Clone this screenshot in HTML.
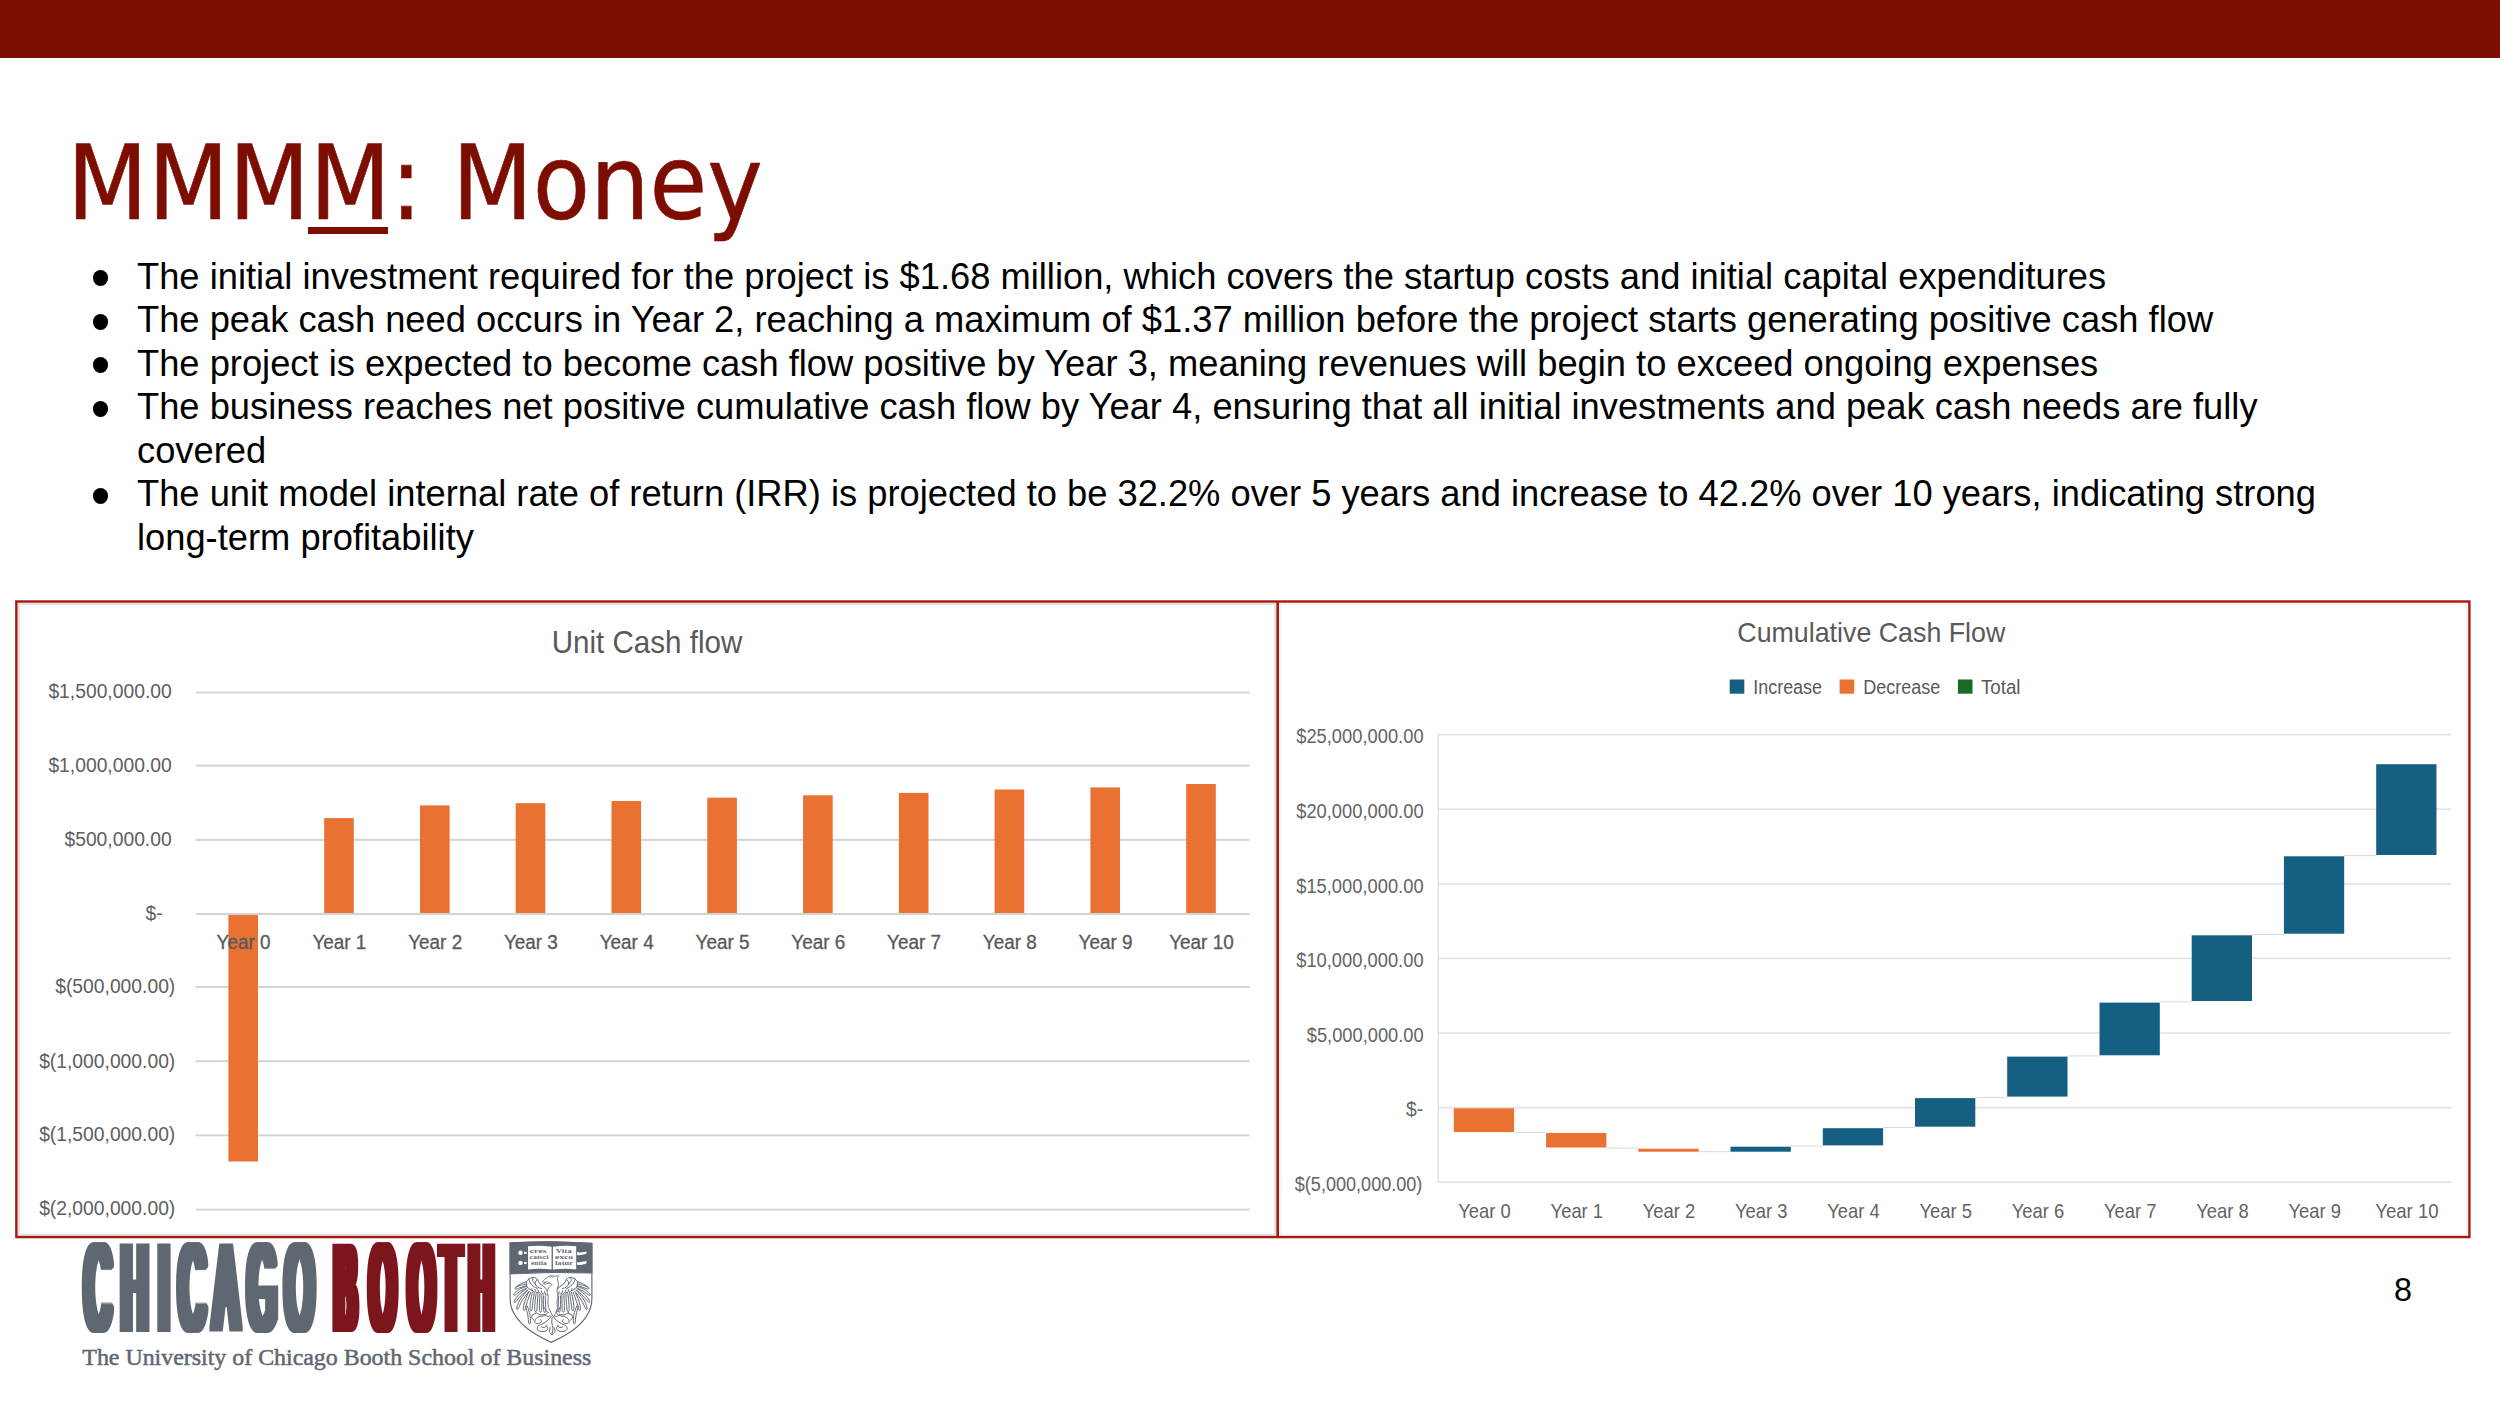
<!DOCTYPE html>
<html lang="en">
<head>
<meta charset="utf-8">
<title>MMMM: Money</title>
<style>
html,body{margin:0;padding:0;}
body{width:2500px;height:1406px;position:relative;overflow:hidden;background:#fff;
  font-family:"Liberation Sans",sans-serif;}
#topbar{position:absolute;left:0;top:0;width:2500px;height:57.6px;background:#7d0d00;}
#title{position:absolute;left:67px;top:121.7px;-webkit-text-stroke:0.6px #7d0d00;margin:0;font-weight:normal;
  font-family:"DejaVu Sans Condensed","DejaVu Sans",sans-serif;font-stretch:condensed;
  font-size:104.2px;line-height:122px;color:#7d0d00;white-space:nowrap;letter-spacing:0;}
#title u{text-decoration:none;position:relative;}
#title u::after{content:"";position:absolute;left:-1.2px;right:2.2px;top:105.5px;height:6.4px;background:#7d0d00;}
#bullets{position:absolute;left:137px;top:254.9px;width:2300px;margin:0;padding:0;list-style:none;
  font-size:36.3px;line-height:43.52px;color:#000;white-space:nowrap;}
#bullets li{position:relative;margin:0;padding:0;}
#bullets li::before{content:"";position:absolute;left:-44.4px;top:15.5px;width:15.6px;height:15.6px;border-radius:50%;background:#000;}
#pagenum{position:absolute;left:2385px;top:1272px;width:36px;text-align:center;font-size:32.3px;line-height:36px;color:#000;}
#charts{position:absolute;left:0;top:0;}
#logo{position:absolute;left:0;top:0;}
</style>
</head>
<body>
<div id="topbar"></div>
<h1 id="title">MMM<u>M</u>: Money</h1>
<ul id="bullets">
<li>The initial investment required for the project is $1.68 million, which covers the startup costs and initial capital expenditures</li>
<li>The peak cash need occurs in Year 2, reaching a maximum of $1.37 million before the project starts generating positive cash flow</li>
<li>The project is expected to become cash flow positive by Year 3, meaning revenues will begin to exceed ongoing expenses</li>
<li>The business reaches net positive cumulative cash flow by Year 4, ensuring that all initial investments and peak cash needs are fully<br>covered</li>
<li>The unit model internal rate of return (IRR) is projected to be 32.2% over 5 years and increase to 42.2% over 10 years, indicating strong<br>long-term profitability</li>
</ul>
<!--CHARTS_START-->
<svg id="charts" width="2500" height="1406" viewBox="0 0 2500 1406" font-family="'Liberation Sans',sans-serif" fill="#595959">
<rect x="18.7" y="603.9" width="1256.5" height="630.8" fill="#fff" stroke="#dde3e4" stroke-width="2.2"/>
<rect x="1280.2" y="603.9" width="1186.6" height="630.8" fill="#fff" stroke="#f0f4f4" stroke-width="2"/>
<rect x="195.5" y="691.56" width="1054" height="2" fill="#d4d4d4"/>
<rect x="195.5" y="764.60" width="1054" height="2" fill="#d4d4d4"/>
<rect x="195.5" y="838.84" width="1054" height="2" fill="#d4d4d4"/>
<rect x="195.5" y="986.04" width="1054" height="2" fill="#d4d4d4"/>
<rect x="195.5" y="1060.20" width="1054" height="2" fill="#d4d4d4"/>
<rect x="195.5" y="1134.36" width="1054" height="2" fill="#d4d4d4"/>
<rect x="195.5" y="1208.60" width="1054" height="2" fill="#d4d4d4"/>
<g fill="#E97132">
<rect x="228.4" y="914.0" width="29.6" height="247.5"/>
<rect x="324.2" y="818.1" width="29.6" height="95.9"/>
<rect x="420.0" y="805.4" width="29.6" height="108.6"/>
<rect x="515.7" y="803.2" width="29.6" height="110.8"/>
<rect x="611.5" y="801.0" width="29.6" height="113.0"/>
<rect x="707.3" y="797.7" width="29.6" height="116.3"/>
<rect x="803.1" y="795.3" width="29.6" height="118.7"/>
<rect x="898.9" y="792.9" width="29.6" height="121.1"/>
<rect x="994.6" y="789.5" width="29.6" height="124.5"/>
<rect x="1090.4" y="787.4" width="29.6" height="126.6"/>
<rect x="1186.2" y="784.0" width="29.6" height="130.0"/>
</g>
<rect x="195.5" y="913.00" width="1054" height="2" fill="#d4d4d4"/>
<text x="216.6" y="949.0" font-size="19.9" stroke="#595959" stroke-width="0.3" textLength="54.0" lengthAdjust="spacingAndGlyphs">Year 0</text>
<text x="312.4" y="949.0" font-size="19.9" stroke="#595959" stroke-width="0.3" textLength="54.0" lengthAdjust="spacingAndGlyphs">Year 1</text>
<text x="408.2" y="949.0" font-size="19.9" stroke="#595959" stroke-width="0.3" textLength="54.0" lengthAdjust="spacingAndGlyphs">Year 2</text>
<text x="503.9" y="949.0" font-size="19.9" stroke="#595959" stroke-width="0.3" textLength="54.0" lengthAdjust="spacingAndGlyphs">Year 3</text>
<text x="599.7" y="949.0" font-size="19.9" stroke="#595959" stroke-width="0.3" textLength="54.0" lengthAdjust="spacingAndGlyphs">Year 4</text>
<text x="695.5" y="949.0" font-size="19.9" stroke="#595959" stroke-width="0.3" textLength="54.0" lengthAdjust="spacingAndGlyphs">Year 5</text>
<text x="791.3" y="949.0" font-size="19.9" stroke="#595959" stroke-width="0.3" textLength="54.0" lengthAdjust="spacingAndGlyphs">Year 6</text>
<text x="887.1" y="949.0" font-size="19.9" stroke="#595959" stroke-width="0.3" textLength="54.0" lengthAdjust="spacingAndGlyphs">Year 7</text>
<text x="982.8" y="949.0" font-size="19.9" stroke="#595959" stroke-width="0.3" textLength="54.0" lengthAdjust="spacingAndGlyphs">Year 8</text>
<text x="1078.6" y="949.0" font-size="19.9" stroke="#595959" stroke-width="0.3" textLength="54.0" lengthAdjust="spacingAndGlyphs">Year 9</text>
<text x="1169.2" y="949.0" font-size="19.9" stroke="#595959" stroke-width="0.3" textLength="64.5" lengthAdjust="spacingAndGlyphs">Year 10</text>
<text x="171.7" y="697.5" font-size="19.3" fill="#5e5e5e" text-anchor="end">$1,500,000.00</text>
<text x="171.7" y="772.0" font-size="19.3" fill="#5e5e5e" text-anchor="end">$1,000,000.00</text>
<text x="171.7" y="846.0" font-size="19.3" fill="#5e5e5e" text-anchor="end">$500,000.00</text>
<text x="162.7" y="919.7" font-size="19.3" fill="#5e5e5e" text-anchor="end">$-</text>
<text x="175.3" y="993.4" font-size="19.3" fill="#5e5e5e" text-anchor="end">$(500,000.00)</text>
<text x="175.3" y="1067.5" font-size="19.3" fill="#5e5e5e" text-anchor="end">$(1,000,000.00)</text>
<text x="175.3" y="1140.8" font-size="19.3" fill="#5e5e5e" text-anchor="end">$(1,500,000.00)</text>
<text x="175.3" y="1215.1" font-size="19.3" fill="#5e5e5e" text-anchor="end">$(2,000,000.00)</text>
<text x="551.7" y="653" font-size="31.2" textLength="190.7" lengthAdjust="spacingAndGlyphs">Unit Cash flow</text>
<rect x="1438" y="733.85" width="1013.4" height="1.5" fill="#e1e1e1"/>
<rect x="1438" y="808.45" width="1013.4" height="1.5" fill="#e1e1e1"/>
<rect x="1438" y="883.05" width="1013.4" height="1.5" fill="#e1e1e1"/>
<rect x="1438" y="957.65" width="1013.4" height="1.5" fill="#e1e1e1"/>
<rect x="1438" y="1032.25" width="1013.4" height="1.5" fill="#e1e1e1"/>
<rect x="1438" y="1106.85" width="1013.4" height="1.5" fill="#e1e1e1"/>
<rect x="1438" y="1181.45" width="1013.4" height="1.5" fill="#e1e1e1"/>
<rect x="1437.5" y="733.9" width="1.5" height="449.1" fill="#e1e1e1"/>
<rect x="1514.2" y="1132.05" width="31.9" height="1" fill="#d9d9d9"/>
<rect x="1606.4" y="1147.60" width="31.9" height="1" fill="#d9d9d9"/>
<rect x="1698.6" y="1151.20" width="31.9" height="1" fill="#d9d9d9"/>
<rect x="1790.8" y="1145.55" width="31.9" height="1" fill="#d9d9d9"/>
<rect x="1883.1" y="1126.95" width="31.9" height="1" fill="#d9d9d9"/>
<rect x="1975.3" y="1096.85" width="31.9" height="1" fill="#d9d9d9"/>
<rect x="2067.5" y="1055.45" width="31.9" height="1" fill="#d9d9d9"/>
<rect x="2159.8" y="1001.30" width="31.9" height="1" fill="#d9d9d9"/>
<rect x="2252.0" y="934.00" width="31.9" height="1" fill="#d9d9d9"/>
<rect x="2344.2" y="855.15" width="31.9" height="1" fill="#d9d9d9"/>
<rect x="1453.8" y="1108.3" width="60.3" height="23.8" fill="#E97132"/>
<rect x="1546.1" y="1133.0" width="60.3" height="14.5" fill="#E97132"/>
<rect x="1638.3" y="1148.7" width="60.3" height="3.0" fill="#E97132"/>
<rect x="1730.5" y="1146.7" width="60.3" height="5.0" fill="#156082"/>
<rect x="1822.8" y="1128.2" width="60.3" height="17.2" fill="#156082"/>
<rect x="1915.0" y="1098.1" width="60.3" height="28.6" fill="#156082"/>
<rect x="2007.2" y="1056.6" width="60.3" height="40.0" fill="#156082"/>
<rect x="2099.5" y="1002.6" width="60.3" height="52.7" fill="#156082"/>
<rect x="2191.7" y="935.3" width="60.3" height="65.7" fill="#156082"/>
<rect x="2283.9" y="856.3" width="60.3" height="77.4" fill="#156082"/>
<rect x="2376.2" y="764.2" width="60.3" height="90.8" fill="#156082"/>
<text x="1458.3" y="1218.1" font-size="20.6" fill="#626262" textLength="52.5" lengthAdjust="spacingAndGlyphs">Year 0</text>
<text x="1550.6" y="1218.1" font-size="20.6" fill="#626262" textLength="52.5" lengthAdjust="spacingAndGlyphs">Year 1</text>
<text x="1642.8" y="1218.1" font-size="20.6" fill="#626262" textLength="52.5" lengthAdjust="spacingAndGlyphs">Year 2</text>
<text x="1735.0" y="1218.1" font-size="20.6" fill="#626262" textLength="52.5" lengthAdjust="spacingAndGlyphs">Year 3</text>
<text x="1827.3" y="1218.1" font-size="20.6" fill="#626262" textLength="52.5" lengthAdjust="spacingAndGlyphs">Year 4</text>
<text x="1919.5" y="1218.1" font-size="20.6" fill="#626262" textLength="52.5" lengthAdjust="spacingAndGlyphs">Year 5</text>
<text x="2011.7" y="1218.1" font-size="20.6" fill="#626262" textLength="52.5" lengthAdjust="spacingAndGlyphs">Year 6</text>
<text x="2104.0" y="1218.1" font-size="20.6" fill="#626262" textLength="52.5" lengthAdjust="spacingAndGlyphs">Year 7</text>
<text x="2196.2" y="1218.1" font-size="20.6" fill="#626262" textLength="52.5" lengthAdjust="spacingAndGlyphs">Year 8</text>
<text x="2288.4" y="1218.1" font-size="20.6" fill="#626262" textLength="52.5" lengthAdjust="spacingAndGlyphs">Year 9</text>
<text x="2375.2" y="1218.1" font-size="20.6" fill="#626262" textLength="63.5" lengthAdjust="spacingAndGlyphs">Year 10</text>
<text x="1296.2" y="743.3" font-size="20.3" fill="#646464" textLength="127.4" lengthAdjust="spacingAndGlyphs">$25,000,000.00</text>
<text x="1296.2" y="817.9" font-size="20.3" fill="#646464" textLength="127.4" lengthAdjust="spacingAndGlyphs">$20,000,000.00</text>
<text x="1296.2" y="892.5" font-size="20.3" fill="#646464" textLength="127.4" lengthAdjust="spacingAndGlyphs">$15,000,000.00</text>
<text x="1296.2" y="967.1" font-size="20.3" fill="#646464" textLength="127.4" lengthAdjust="spacingAndGlyphs">$10,000,000.00</text>
<text x="1306.8" y="1041.7" font-size="20.3" fill="#646464" textLength="116.8" lengthAdjust="spacingAndGlyphs">$5,000,000.00</text>
<text x="1406.0" y="1116.3" font-size="20.3" fill="#646464" textLength="17.2" lengthAdjust="spacingAndGlyphs">$-</text>
<text x="1294.8" y="1190.9" font-size="20.3" fill="#646464" textLength="127.6" lengthAdjust="spacingAndGlyphs">$(5,000,000.00)</text>
<text x="1737.3" y="642.4" font-size="28.5" textLength="268" lengthAdjust="spacingAndGlyphs">Cumulative Cash Flow</text>
<rect x="1729.7" y="679.5" width="14.6" height="14.2" fill="#156082"/>
<text x="1753.2" y="694.2" font-size="19.9" textLength="68.9" lengthAdjust="spacingAndGlyphs">Increase</text>
<rect x="1839.6" y="679.5" width="14.6" height="14.2" fill="#E97132"/>
<text x="1863.3" y="694.2" font-size="19.9" textLength="77" lengthAdjust="spacingAndGlyphs">Decrease</text>
<rect x="1957.9" y="679.5" width="14.6" height="14.2" fill="#196B24"/>
<text x="1981" y="694.2" font-size="19.9" textLength="39.5" lengthAdjust="spacingAndGlyphs">Total</text>
<rect x="16.35" y="601.5" width="2453.05" height="635.55" fill="none" stroke="#a51a0c" stroke-width="2.4"/>
<rect x="1276.4" y="601.5" width="2.6" height="635.55" fill="#a51a0c"/>
</svg>
<!--CHARTS_END-->
<!--LOGO_START-->
<svg id="logo" width="2500" height="1406" viewBox="0 0 2500 1406">
<defs>
<filter id="fat0" x="-5%" y="-10%" width="110%" height="120%"><feMorphology operator="dilate" radius="4.7 2.0"/></filter>
<filter id="fat1" x="-5%" y="-10%" width="110%" height="120%"><feMorphology operator="dilate" radius="5.4 2.0"/></filter>
</defs>
<g font-family="'Liberation Sans',sans-serif" font-size="122.4">
<g filter="url(#fat0)"><text transform="translate(0,1330.20) scale(0.29,1)" x="293.3 420.2 548.4 617.8 738.8 855.9 985.2" y="0" fill="#5f6872">CHICAGO</text></g>
<g filter="url(#fat1)"><text transform="translate(0,1330.20) scale(0.262,1)" x="1277.7 1413.2 1560.7 1684.5 1792.9" y="0" fill="#7c151c">BOOTH</text></g>
</g>
<text x="82.3" y="1364.6" font-family="'Liberation Serif',serif" font-size="22.4" fill="#5f6872" stroke="#5f6872" stroke-width="0.5" textLength="509" lengthAdjust="spacingAndGlyphs">The University of Chicago Booth School of Business</text>
<path d="M510.1,1242.9 Q551.3,1240.3 591.9,1243.4 L591.9,1298.7 C591.9,1314.4 580.9,1325.6 566.4,1334.6 C560.8,1337.9 555.2,1340.7 551.3,1342.4 C547.3,1340.7 541.7,1337.9 536.1,1334.6 C521.6,1325.6 510.1,1314.4 510.1,1298.7 Z" fill="#fff" stroke="#5f6872" stroke-width="1.15"/>
<path d="M510.1,1242.9 Q551.3,1240.3 591.9,1243.4 L591.9,1273.0 Q551.3,1271.6 510.1,1273.9 Z" fill="#5f6872" stroke="#5f6872" stroke-width="1.0"/>
<path d="M528.0,1246.3 Q539.5,1245.0 551.6,1246.8 L551.6,1269.6 Q539.5,1267.8 528.0,1269.4 Z" fill="#fff"/>
<path d="M552.9,1246.8 Q564.7,1245.0 576.2,1246.3 L576.2,1269.4 Q564.7,1267.8 552.9,1269.6 Z" fill="#fff"/>
<circle cx="520.5" cy="1252.8" r="2.2" fill="#fff"/>
<rect x="524.1" y="1251.8" width="2.6" height="2.1" fill="#fff"/>
<circle cx="520.5" cy="1262.9" r="2.2" fill="#fff"/>
<rect x="524.1" y="1261.9" width="2.6" height="2.1" fill="#fff"/>
<path d="M577.1,1252.1 C580.9,1253.5 583.2,1250.8 587.0,1251.9 L585.7,1254.1 C583.2,1253.9 580.9,1256.2 577.1,1255.0 Z" fill="#fff"/>
<path d="M577.1,1261.9 C580.9,1263.2 583.2,1260.5 587.0,1261.6 L585.7,1263.9 C583.2,1263.7 580.9,1265.9 577.1,1264.8 Z" fill="#fff"/>
<g font-family="'Liberation Serif',serif" font-weight="bold" font-size="5.6" fill="#5f6872">
<text x="529.7" y="1252.8" textLength="17.0" lengthAdjust="spacingAndGlyphs">cres</text>
<text x="529.4" y="1259.2" textLength="19.0" lengthAdjust="spacingAndGlyphs">catsci</text>
<text x="531.1" y="1265.3" textLength="15.5" lengthAdjust="spacingAndGlyphs">entia</text>
<text x="555.7" y="1252.8" textLength="16.0" lengthAdjust="spacingAndGlyphs">Vita</text>
<text x="555.0" y="1259.2" textLength="18.0" lengthAdjust="spacingAndGlyphs">exco</text>
<text x="555.0" y="1265.3" textLength="18.0" lengthAdjust="spacingAndGlyphs">latur</text>
</g>
<path d="M526.4,1283.9 C525.4,1284.2 522.1,1284.8 520.4,1285.4 C518.6,1286.0 516.7,1286.8 515.8,1287.4 C514.9,1287.9 514.9,1288.4 515.0,1288.7 C515.1,1289.0 515.4,1289.3 516.4,1289.0 C517.4,1288.8 519.3,1287.9 521.0,1287.4 C522.8,1286.8 526.0,1285.8 526.9,1285.5 M526.5,1286.3 C525.3,1286.8 521.4,1288.3 519.4,1289.5 C517.3,1290.7 515.4,1292.4 514.4,1293.3 C513.5,1294.3 513.5,1294.8 513.7,1295.1 C513.9,1295.3 514.2,1295.5 515.4,1294.8 C516.5,1294.2 518.4,1292.4 520.4,1291.2 C522.4,1290.1 526.2,1288.3 527.3,1287.7 M526.6,1288.6 C525.4,1289.5 521.2,1292.3 519.3,1294.2 C517.3,1296.1 515.6,1298.7 514.8,1300.0 C514.0,1301.4 514.3,1302.0 514.5,1302.3 C514.7,1302.5 515.1,1302.5 516.2,1301.4 C517.3,1300.3 518.9,1297.7 520.9,1295.7 C522.8,1293.8 526.7,1290.8 527.9,1289.8 M527.3,1290.6 C526.1,1292.0 522.2,1296.3 520.5,1299.0 C518.8,1301.7 517.6,1305.2 517.0,1306.9 C516.4,1308.6 516.8,1309.3 517.0,1309.4 C517.3,1309.6 517.7,1309.4 518.6,1307.9 C519.5,1306.3 520.7,1302.9 522.4,1300.2 C524.1,1297.5 527.7,1293.0 528.8,1291.6 M528.7,1291.9 C528.1,1293.4 526.0,1298.1 525.1,1300.8 C524.2,1303.5 523.5,1306.7 523.3,1308.3 C523.1,1309.9 523.6,1310.4 523.9,1310.5 C524.2,1310.6 524.7,1310.4 525.3,1308.9 C525.8,1307.4 526.5,1304.3 527.3,1301.5 C528.2,1298.8 530.0,1294.0 530.5,1292.5 M532.3,1292.3 C532.0,1293.8 530.9,1298.6 530.5,1301.4 C530.1,1304.2 530.0,1307.3 530.0,1308.9 C530.1,1310.4 530.6,1310.8 530.9,1310.9 C531.2,1310.9 531.7,1310.6 532.0,1309.1 C532.4,1307.6 532.5,1304.5 532.9,1301.7 C533.3,1299.0 534.0,1294.0 534.2,1292.5 M536.2,1292.9 C536.0,1294.5 535.2,1299.4 535.0,1302.2 C534.8,1305.0 534.6,1308.1 534.7,1309.7 C534.9,1311.3 535.3,1311.6 535.7,1311.6 C536.0,1311.7 536.5,1311.4 536.8,1309.9 C537.1,1308.3 537.2,1305.2 537.4,1302.4 C537.6,1299.6 537.9,1294.6 538.1,1293.1 M540.0,1294.3 C539.9,1295.8 539.6,1300.6 539.5,1303.3 C539.4,1306.0 539.3,1309.0 539.5,1310.5 C539.6,1312.0 540.1,1312.3 540.5,1312.3 C540.8,1312.3 541.3,1312.0 541.5,1310.5 C541.8,1309.0 541.8,1306.0 541.9,1303.3 C541.9,1300.6 541.9,1295.8 541.9,1294.3 M543.4,1295.9 C543.4,1297.3 543.3,1301.7 543.4,1304.2 C543.5,1306.7 543.5,1309.4 543.8,1310.8 C544.0,1312.2 544.4,1312.5 544.8,1312.4 C545.1,1312.4 545.5,1312.1 545.7,1310.8 C545.8,1309.4 545.7,1306.6 545.6,1304.1 C545.5,1301.6 545.2,1297.2 545.2,1295.9 M525.4,1306.2 C525.8,1307.7 527.2,1312.4 527.8,1315.1 C528.3,1317.8 528.3,1320.8 528.6,1322.3 C528.9,1323.8 529.3,1324.0 529.6,1324.0 C529.9,1323.9 530.4,1323.5 530.5,1322.0 C530.5,1320.4 530.5,1317.3 529.9,1314.7 C529.4,1312.0 527.6,1307.4 527.2,1305.9 M547.8,1291.7 C547.2,1290.9 545.9,1288.3 544.6,1287.0 C543.3,1285.6 541.0,1285.0 539.8,1283.8 C538.6,1282.5 538.5,1280.5 537.4,1279.4 C536.4,1278.3 534.9,1277.5 533.4,1277.4 C532.0,1277.3 529.9,1278.3 528.7,1279.0 C527.5,1279.7 527.5,1281.1 526.3,1281.8 C525.1,1282.5 523.2,1282.5 521.5,1283.4 C519.8,1284.2 516.9,1286.4 515.9,1287.0 M537.4,1279.4 C537.0,1280.0 535.0,1281.7 535.0,1283.0 C535.0,1284.2 536.4,1286.0 537.4,1287.0 C538.5,1287.9 540.7,1288.3 541.4,1288.6 M528.7,1279.0 C528.9,1279.7 529.5,1281.8 530.3,1283.0 C531.1,1284.2 532.3,1285.2 533.4,1286.2 C534.6,1287.1 536.8,1288.2 537.4,1288.6 M526.3,1281.8 C526.3,1282.4 525.9,1284.2 526.3,1285.4 C526.7,1286.5 527.6,1287.6 528.7,1288.6 C529.7,1289.5 532.0,1290.5 532.6,1290.9 M533.4,1277.4 C533.3,1277.9 532.4,1279.5 532.6,1280.6 C532.9,1281.7 534.6,1283.2 535.0,1283.8 M531.9,1288.6 C532.0,1289.0 532.1,1290.4 532.5,1290.9 C532.9,1291.5 533.9,1291.6 534.2,1291.7 M535.0,1289.4 C535.1,1289.8 535.3,1291.2 535.7,1291.7 C536.1,1292.3 537.1,1292.4 537.4,1292.5 M538.2,1290.1 C538.3,1290.5 538.5,1292.0 538.9,1292.5 C539.3,1293.1 540.3,1293.2 540.6,1293.3 M541.4,1290.9 C541.5,1291.3 541.6,1292.8 542.0,1293.3 C542.4,1293.9 543.5,1294.0 543.8,1294.1 M544.6,1291.7 C544.7,1292.1 544.8,1293.6 545.2,1294.1 C545.6,1294.7 546.7,1294.8 547.0,1294.9 M576.9,1285.5 C577.9,1285.8 581.0,1286.8 582.8,1287.4 C584.6,1287.9 586.4,1288.8 587.5,1289.0 C588.5,1289.3 588.8,1289.0 588.9,1288.7 C589.0,1288.4 588.9,1287.9 588.0,1287.4 C587.1,1286.8 585.2,1286.0 583.5,1285.4 C581.7,1284.8 578.4,1284.2 577.4,1283.9 M576.5,1287.7 C577.6,1288.3 581.4,1290.1 583.4,1291.2 C585.4,1292.4 587.4,1294.2 588.5,1294.8 C589.6,1295.5 590.0,1295.3 590.1,1295.1 C590.3,1294.8 590.3,1294.3 589.4,1293.3 C588.5,1292.4 586.5,1290.7 584.5,1289.5 C582.5,1288.3 578.5,1286.8 577.4,1286.3 M576.0,1289.8 C577.1,1290.8 581.0,1293.8 583.0,1295.7 C584.9,1297.7 586.6,1300.3 587.6,1301.4 C588.7,1302.5 589.1,1302.5 589.3,1302.3 C589.6,1302.0 589.8,1301.4 589.0,1300.0 C588.2,1298.7 586.5,1296.1 584.6,1294.2 C582.6,1292.3 578.5,1289.5 577.2,1288.6 M575.0,1291.6 C576.1,1293.0 579.7,1297.5 581.4,1300.2 C583.1,1302.9 584.3,1306.3 585.2,1307.9 C586.1,1309.4 586.5,1309.6 586.8,1309.4 C587.1,1309.3 587.4,1308.6 586.9,1306.9 C586.3,1305.2 585.1,1301.7 583.4,1299.0 C581.6,1296.3 577.7,1292.0 576.6,1290.6 M573.3,1292.5 C573.8,1294.0 575.6,1298.8 576.5,1301.5 C577.4,1304.3 578.0,1307.4 578.6,1308.9 C579.2,1310.4 579.6,1310.6 579.9,1310.5 C580.3,1310.4 580.7,1309.9 580.5,1308.3 C580.3,1306.7 579.7,1303.5 578.8,1300.8 C577.9,1298.1 575.7,1293.4 575.1,1291.9 M569.6,1292.5 C569.8,1294.0 570.6,1299.0 570.9,1301.7 C571.3,1304.5 571.5,1307.6 571.8,1309.1 C572.1,1310.6 572.6,1310.9 572.9,1310.9 C573.3,1310.8 573.8,1310.4 573.8,1308.9 C573.9,1307.3 573.7,1304.2 573.3,1301.4 C572.9,1298.6 571.8,1293.8 571.5,1292.3 M565.8,1293.1 C565.9,1294.6 566.2,1299.6 566.4,1302.4 C566.7,1305.2 566.8,1308.3 567.1,1309.9 C567.4,1311.4 567.8,1311.7 568.2,1311.6 C568.5,1311.6 569.0,1311.3 569.1,1309.7 C569.2,1308.1 569.1,1305.0 568.8,1302.2 C568.6,1299.4 567.9,1294.5 567.7,1292.9 M562.0,1294.3 C562.0,1295.8 561.9,1300.6 562.0,1303.3 C562.0,1306.0 562.1,1309.0 562.3,1310.5 C562.6,1312.0 563.0,1312.3 563.4,1312.3 C563.7,1312.3 564.2,1312.0 564.4,1310.5 C564.5,1309.0 564.4,1306.0 564.3,1303.3 C564.3,1300.6 563.9,1295.8 563.9,1294.3 M558.7,1295.9 C558.6,1297.2 558.3,1301.6 558.2,1304.1 C558.1,1306.6 558.0,1309.4 558.2,1310.8 C558.3,1312.1 558.8,1312.4 559.1,1312.4 C559.4,1312.5 559.9,1312.2 560.1,1310.8 C560.3,1309.4 560.4,1306.7 560.4,1304.2 C560.5,1301.7 560.5,1297.3 560.5,1295.9 M576.7,1305.9 C576.2,1307.4 574.5,1312.0 573.9,1314.7 C573.3,1317.3 573.3,1320.4 573.3,1322.0 C573.4,1323.5 573.9,1323.9 574.2,1324.0 C574.5,1324.0 574.9,1323.8 575.2,1322.3 C575.5,1320.8 575.5,1317.8 576.1,1315.1 C576.6,1312.4 578.0,1307.7 578.4,1306.2 M556.1,1291.7 C556.6,1290.9 557.9,1288.3 559.2,1287.0 C560.6,1285.6 562.8,1285.0 564.0,1283.8 C565.2,1282.5 565.4,1280.5 566.4,1279.4 C567.5,1278.3 568.9,1277.5 570.4,1277.4 C571.9,1277.3 574.0,1278.3 575.2,1279.0 C576.4,1279.7 576.4,1281.1 577.6,1281.8 C578.8,1282.5 580.6,1282.5 582.3,1283.4 C584.1,1284.2 587.0,1286.4 587.9,1287.0 M566.4,1279.4 C566.8,1280.0 568.8,1281.7 568.8,1283.0 C568.8,1284.2 567.5,1286.0 566.4,1287.0 C565.4,1287.9 563.1,1288.3 562.4,1288.6 M575.2,1279.0 C574.9,1279.7 574.4,1281.8 573.6,1283.0 C572.8,1284.2 571.6,1285.2 570.4,1286.2 C569.2,1287.1 567.1,1288.2 566.4,1288.6 M577.6,1281.8 C577.6,1282.4 578.0,1284.2 577.6,1285.4 C577.2,1286.5 576.2,1287.6 575.2,1288.6 C574.1,1289.5 571.9,1290.5 571.2,1290.9 M570.4,1277.4 C570.5,1277.9 571.5,1279.5 571.2,1280.6 C570.9,1281.7 569.2,1283.2 568.8,1283.8 M572.0,1288.6 C571.9,1289.0 571.7,1290.4 571.3,1290.9 C571.0,1291.5 569.9,1291.6 569.6,1291.7 M568.8,1289.4 C568.7,1289.8 568.6,1291.2 568.2,1291.7 C567.8,1292.3 566.7,1292.4 566.4,1292.5 M565.6,1290.1 C565.5,1290.5 565.4,1292.0 565.0,1292.5 C564.6,1293.1 563.5,1293.2 563.2,1293.3 M562.4,1290.9 C562.3,1291.3 562.2,1292.8 561.8,1293.3 C561.4,1293.9 560.3,1294.0 560.0,1294.1 M559.2,1291.7 C559.1,1292.1 559.0,1293.6 558.6,1294.1 C558.2,1294.7 557.1,1294.8 556.9,1294.9 M547.8,1312.4 C547.2,1313.0 545.9,1315.0 544.6,1315.6 C543.3,1316.3 541.3,1315.9 539.8,1316.4 C538.4,1317.0 536.6,1317.8 535.8,1318.8 C535.0,1319.8 534.6,1321.6 535.0,1322.4 C535.4,1323.2 537.2,1323.7 538.2,1323.6 C539.3,1323.5 541.0,1322.7 541.4,1322.0 C541.8,1321.3 540.7,1320.0 540.6,1319.6 M556.1,1312.4 C556.7,1313.0 558.0,1315.0 559.3,1315.6 C560.7,1316.3 562.6,1315.9 564.1,1316.4 C565.6,1317.0 567.3,1317.8 568.1,1318.8 C568.9,1319.8 569.3,1321.6 568.9,1322.4 C568.5,1323.2 566.8,1323.7 565.7,1323.6 C564.6,1323.5 562.9,1322.7 562.5,1322.0 C562.1,1321.3 563.2,1320.0 563.3,1319.6 M551.0,1316.4 C550.4,1317.1 549.1,1319.2 547.8,1320.4 C546.5,1321.6 544.6,1322.7 543.0,1323.6 C541.4,1324.5 539.2,1325.0 538.2,1326.0 C537.3,1327.0 536.9,1328.6 537.4,1329.6 C538.0,1330.5 539.9,1331.4 541.4,1331.6 C542.9,1331.8 545.1,1331.4 546.2,1330.8 C547.2,1330.1 547.9,1328.4 547.8,1327.6 C547.6,1326.8 545.8,1326.2 545.4,1326.0 M553.4,1316.4 C553.9,1317.1 555.2,1319.2 556.5,1320.4 C557.9,1321.6 559.7,1322.7 561.3,1323.6 C562.9,1324.5 565.2,1325.0 566.1,1326.0 C567.0,1327.0 567.4,1328.6 566.9,1329.6 C566.4,1330.5 564.4,1331.4 562.9,1331.6 C561.4,1331.8 559.2,1331.4 558.1,1330.8 C557.1,1330.1 556.4,1328.4 556.5,1327.6 C556.7,1326.8 558.5,1326.2 558.9,1326.0 M552.2,1317.2 C552.1,1318.2 551.6,1320.9 551.8,1322.8 C551.9,1324.7 553.0,1326.4 553.0,1328.4 C553.0,1330.4 552.0,1333.7 551.8,1334.7 M552.2,1334.7 C552.6,1334.2 554.6,1332.8 554.9,1331.6 C555.3,1330.4 554.3,1328.2 554.1,1327.6 M551.8,1334.7 C551.4,1334.2 549.6,1332.8 549.4,1331.6 C549.1,1330.4 550.0,1328.2 550.2,1327.6 M535.8,1312.4 C536.5,1312.8 538.4,1314.5 539.8,1314.8 C541.3,1315.2 543.8,1314.5 544.6,1314.4 M568.5,1312.4 C567.8,1312.8 566.0,1314.5 564.5,1314.8 C563.0,1315.2 560.5,1314.5 559.7,1314.4 M534.2,1320.4 C533.8,1320.0 532.1,1318.9 531.9,1318.0 C531.6,1317.1 532.0,1315.6 532.6,1314.8 C533.3,1314.1 535.3,1313.8 535.8,1313.6 M570.1,1320.4 C570.5,1320.0 572.2,1318.9 572.5,1318.0 C572.7,1317.1 572.3,1315.6 571.7,1314.8 C571.0,1314.1 569.0,1313.8 568.5,1313.6 M541.4,1326.8 C541.9,1326.9 543.7,1327.8 544.6,1327.6 C545.5,1327.3 546.6,1325.6 547.0,1325.2 M562.9,1326.8 C562.4,1326.9 560.7,1327.8 559.7,1327.6 C558.8,1327.3 557.7,1325.6 557.3,1325.2 M544.6,1307.7 C544.9,1308.2 545.5,1310.1 546.2,1310.9 C546.8,1311.6 548.2,1312.2 548.6,1312.4 M559.7,1307.7 C559.5,1308.2 558.8,1310.1 558.1,1310.9 C557.5,1311.6 556.1,1312.2 555.7,1312.4 M544.6,1314.8 C545.1,1315.1 546.8,1316.3 547.8,1316.4 C548.7,1316.6 549.8,1315.8 550.2,1315.6 M559.7,1314.8 C559.2,1315.1 557.5,1316.3 556.5,1316.4 C555.6,1316.6 554.5,1315.8 554.1,1315.6" fill="none" stroke="#5f6872" stroke-width="1.0" stroke-linecap="round" stroke-linejoin="round"/>
<path d="M542.6,1281.8 C542.4,1281.3 543.7,1280.2 544.6,1279.4 C545.5,1278.6 546.7,1277.6 547.8,1277.0 C548.8,1276.4 549.8,1275.9 551.0,1275.8 C552.2,1275.7 553.8,1276.3 554.9,1276.3 C556.1,1276.3 557.7,1275.1 558.1,1275.7 C558.6,1276.2 557.4,1278.0 557.5,1279.4 C557.6,1280.8 558.6,1282.4 558.5,1284.2 C558.4,1286.0 557.1,1288.1 557.0,1290.1 C556.9,1292.2 557.8,1294.4 557.8,1296.5 C557.8,1298.6 556.9,1301.0 556.9,1302.9 C556.8,1304.7 557.7,1306.1 557.5,1307.7 C557.3,1309.2 556.6,1310.8 555.9,1312.3 C555.2,1313.8 554.2,1316.6 553.4,1316.6 C552.5,1316.6 551.7,1313.9 551.0,1312.4 C550.2,1311.0 549.3,1309.4 548.7,1307.7 C548.2,1305.9 547.9,1304.0 547.8,1302.1 C547.7,1300.2 548.4,1298.2 548.3,1296.5 C548.1,1294.8 546.9,1293.2 547.0,1291.7 C547.1,1290.3 547.9,1289.0 548.7,1287.8 C549.6,1286.6 551.8,1285.4 551.9,1284.6 C552.1,1283.8 550.4,1283.1 549.5,1283.0 C548.6,1282.9 547.6,1283.8 546.6,1283.9 C545.6,1284.1 543.6,1284.0 543.4,1283.8 C543.2,1283.5 545.7,1282.7 545.5,1282.3 C545.4,1282.0 542.8,1282.3 542.6,1281.8Z" fill="#fff" stroke="#5f6872" stroke-width="0.85" stroke-linejoin="round"/>
<path d="M549.8,1277.6 C550.0,1277.4 550.8,1276.8 551.4,1276.8 C551.9,1276.8 552.7,1277.4 553.0,1277.6 M545.5,1282.3 C545.9,1282.3 547.1,1281.7 547.8,1281.8 C548.4,1281.9 549.2,1282.8 549.5,1283.0" fill="none" stroke="#5f6872" stroke-width="0.7" stroke-linecap="round"/>
</svg>
<!--LOGO_END-->
<div id="pagenum">8</div>
</body>
</html>
